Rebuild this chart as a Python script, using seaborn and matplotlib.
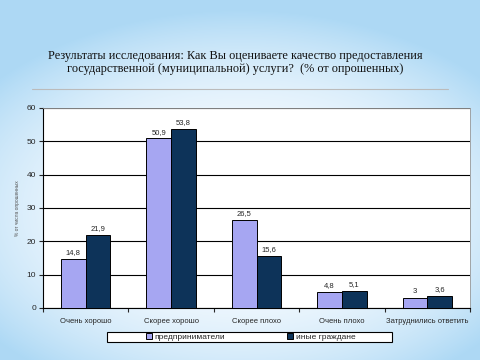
import numpy as np
import pandas as pd
import matplotlib
matplotlib.use("Agg")
import matplotlib.pyplot as plt
from matplotlib.patches import Rectangle
import seaborn as sns

# survey answers and shares (% of respondents)
categories = ["Очень хорошо", "Скорее хорошо", "Скорее плохо", "Очень плохо", "Затруднились ответить"]
entrepreneurs = [14.8, 50.9, 26.5, 4.8, 3.0]
citizens = [21.9, 53.8, 15.6, 5.1, 3.6]
series_names = ["предприниматели", "иные граждане"]
y_ticks = [0, 10, 20, 30, 40, 50, 60]

df = pd.DataFrame({
    "category": categories * 2,
    "value": entrepreneurs + citizens,
    "group": [series_names[0]] * len(categories) + [series_names[1]] * len(categories),
})

sns.set_theme(style="white")
plt.rcParams['font.family'] = ['Liberation Sans', 'DejaVu Sans']

fig = plt.figure(figsize=(4.8, 3.6), dpi=100)

# slide background: light blue gradient with a pale centre
bg = fig.add_axes([0, 0, 1, 1])
yy, xx = np.mgrid[0:360, 0:480]
d = np.sqrt(((xx - 240) / 320.0) ** 2 + ((yy - 210) / 200.0) ** 2)
t = np.clip(d, 0, 1) ** 2.5
c_in = np.array([0.97, 0.985, 1.0])
c_out = np.array([0.68, 0.85, 0.96])
img = c_in[None, None, :] * (1 - t[..., None]) + c_out[None, None, :] * t[..., None]
bg.imshow(img, aspect="auto", extent=[0, 1, 0, 1], origin="upper")
bg.set_axis_off()

# title and separator line
fig.text(0.49, 1 - 62.5 / 360, "Результаты исследования: Как Вы оцениваете качество предоставления\n"
         "государственной (муниципальной) услуги?  (% от опрошенных)",
         ha="center", va="center", fontsize=8.8, family="Liberation Serif",
         linespacing=1.15, color="#111111")
fig.add_artist(plt.Line2D([32 / 480, 448 / 480], [1 - 89 / 360, 1 - 89 / 360], color="#bbbbbb", lw=0.8))

ax = fig.add_axes([43 / 480, 1 - 308 / 360, 427 / 480, 200 / 360])
ax.set_facecolor("white")
sns.barplot(data=df, x="category", y="value", hue="group", order=categories,
            hue_order=series_names, palette=["#9999ff", "#003366"],
            width=0.58, edgecolor="black", linewidth=0.7, ax=ax, zorder=3)

for cont in ax.containers:
    labels = [f"{v:g}".replace(".", ",") for v in cont.datavalues]
    ax.bar_label(cont, labels=labels, fontsize=5.5, padding=2)

ax.set_ylim(0, 60)
ax.set_xlim(-0.5, len(categories) - 0.5)
ax.set_yticks(y_ticks)
ax.yaxis.grid(True, color="black", lw=0.8, zorder=0)
ax.set_axisbelow(True)
ax.tick_params(axis="y", labelsize=6, length=3, width=0.8, left=True, pad=2)
ax.set_xticks(range(len(categories)))
ax.set_xticklabels(categories, fontsize=5.5)
ax.set_xticks(np.arange(-0.5, len(categories), 1), minor=True)
ax.tick_params(axis="x", which="major", length=0, pad=7)
ax.tick_params(axis="x", which="minor", length=3, width=0.8, bottom=True)
ax.set_xlabel("")
ax.set_ylabel("% от числа опрошенных", fontsize=3.5, color="#555555", labelpad=5)
for s in ["left", "bottom"]:
    ax.spines[s].set_color("black")
    ax.spines[s].set_linewidth(0.8)
for s in ["top", "right"]:
    ax.spines[s].set_color("#999999")
    ax.spines[s].set_linewidth(0.6)

# legend box drawn separately so it can be wider than its entries
fig.add_artist(Rectangle((107 / 480, 1 - 342 / 360), 285 / 480, 10 / 360,
                         transform=fig.transFigure, facecolor="white",
                         edgecolor="black", lw=0.8, zorder=5))
handles, lbls = ax.get_legend_handles_labels()
leg = ax.legend(handles, lbls, ncol=2, loc="center", bbox_to_anchor=(250.5 / 480, 1 - 337 / 360),
                bbox_transform=fig.transFigure, fontsize=6, frameon=False,
                borderpad=0.1, handlelength=0.7, handleheight=0.7,
                handletextpad=0.3, columnspacing=7.5)
leg.set_zorder(6)
leg.remove()
fig.add_artist(leg)

fig.savefig("out.png", dpi=100)
